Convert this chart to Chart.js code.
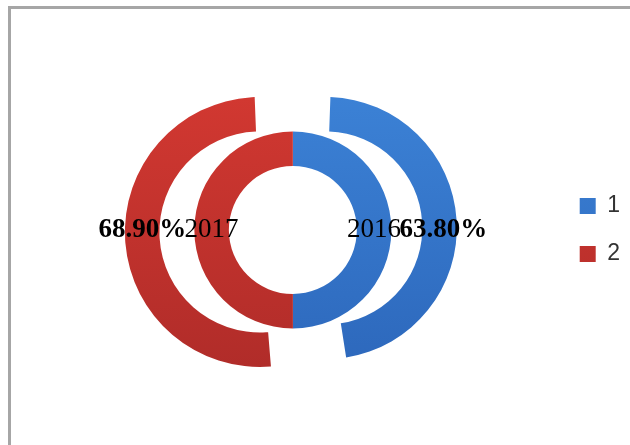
<!DOCTYPE html>
<html>
<head>
<meta charset="utf-8">
<script src="https://cdn.jsdelivr.net/npm/chart.js@4/dist/chart.umd.min.js"></script>
<style>
  body { margin: 0; background: #fff; }
  #wrap { position: relative; width: 630px; height: 445px; overflow: hidden; }
  #frame {
    position: absolute; left: 8px; top: 6px; width: 700px; height: 500px;
    border-left: 3px solid #a6a6a6; border-top: 3px solid #a6a6a6;
    pointer-events: none;
  }
  canvas { position: absolute; left: 0; top: 0; }
</style>
</head>
<body>
<div id="wrap">
  <canvas id="chart" width="630" height="445"></canvas>
  <div id="frame"></div>
</div>
<script>
// datos del gráfico
const legendLabels = ['1', '2'];
const outerValues = [63.8, 68.9];   // anillo exterior (porcentajes)
const innerValues = [2016, 2017];   // anillo interior (años)

// colores: arriba / abajo del degradado
const topColors = ['#3c82d6', '#d23831'];
const bottomColors = ['#2d68bc', '#b02c29'];

// degradado vertical tipo Excel
const shade = (ctx) => {
    const chart = ctx.chart;
    const i = ctx.dataIndex;
    const area = chart.chartArea;
    if (!area || i === undefined) return topColors[i || 0];
    const cy = (area.top + area.bottom) / 2;
    const g = chart.ctx.createLinearGradient(0, cy - 140, 0, cy + 140);
    g.addColorStop(0, topColors[i]);
    g.addColorStop(1, bottomColors[i]);
    return g;
};

// etiquetas de datos sobre cada segmento
const ringLabels = {
    id: 'ringLabels',
    afterDatasetsDraw(chart) {
        const ctx = chart.ctx;
        ctx.save();
        ctx.fillStyle = '#000';
        ctx.textAlign = 'center';
        ctx.textBaseline = 'middle';
        chart.data.datasets.forEach((ds, d) => {
            const meta = chart.getDatasetMeta(d);
            ctx.font = (d === 0 ? 'bold ' : '') + '27px "Liberation Serif"';
            meta.data.forEach((arc, i) => {
                const off = (arc.options.offset || 0) / 4;
                const mid = (arc.startAngle + arc.endAngle) / 2;
                const r = (arc.innerRadius + arc.outerRadius) / 2 + off * 2;
                const text = d === 0 ? ds.data[i].toFixed(2) + '%' : String(ds.data[i]);
                ctx.fillText(text, arc.x + Math.cos(mid) * r, arc.y);
            });
        });
        ctx.restore();
    }
};

new Chart(document.getElementById('chart'), {
    type: 'doughnut',
    data: {
        labels: legendLabels,
        datasets: [{
            data: outerValues,
            backgroundColor: shade,
            borderWidth: 0,
            offset: 132,
            hoverOffset: 0,
            radius: 102,
            cutout: '32.35%'
        }, {
            data: innerValues,
            backgroundColor: shade,
            borderWidth: 0,
            hoverOffset: 0,
            radius: 133,
            cutout: '48.12%'
        }]
    },
    options: {
        responsive: false,
        animation: false,
        layout: { padding: { top: 15, left: 31, right: 0, bottom: 0 } },
        plugins: {
            legend: {
                position: 'right',
                labels: {
                    boxWidth: 16,
                    boxHeight: 16,
                    padding: 25,
                    color: '#333',
                    font: { size: 23, family: '"Liberation Sans", Arial, sans-serif' }
                }
            },
            tooltip: { enabled: false }
        }
    },
    plugins: [ringLabels]
});
</script>
</body>
</html>
